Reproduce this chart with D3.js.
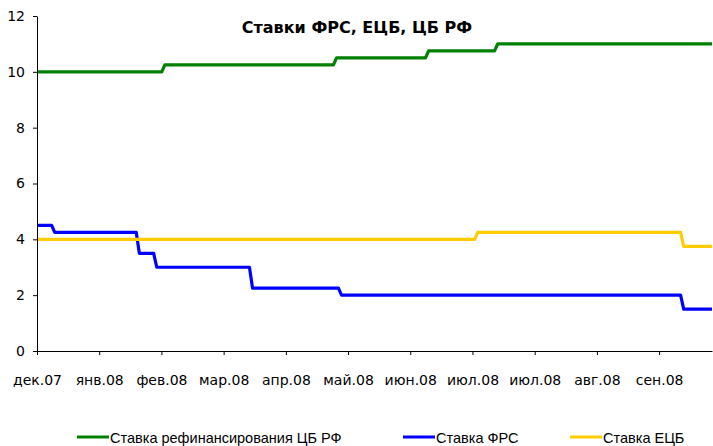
<!DOCTYPE html>
<html>
<head>
<meta charset="utf-8">
<script src="https://cdn.jsdelivr.net/npm/d3@7"></script>
<style>
  body { margin: 0; background: #fff; }
  svg text { font-family: "DejaVu Sans", Verdana, sans-serif; }
</style>
</head>
<body>
<svg id="chart" width="713" height="446"></svg>
<script>
// tick labels of the category axis (one per month tick)
var tickLabels = ["дек.07", "янв.08", "фев.08", "мар.08", "апр.08", "май.08",
	"июн.08", "июл.08", "июл.08", "авг.08", "сен.08"];
var xEnd = 10.85; // axis runs a bit past the last tick

// step changes: [position on axis in tick units, rate %]
var cbrSteps = [[0, 10], [2.03, 10.25], [4.79, 10.5], [6.27, 10.75], [7.38, 11]];
var fedSteps = [[0, 4.5], [0.26, 4.25], [1.62, 3.5], [1.90, 3.0], [3.44, 2.25], [4.87, 2.0], [10.37, 1.5]];
var ecbSteps = [[0, 4.0], [7.06, 4.25], [10.37, 3.75]];

var seriesNames = ["Ставка рефинансирования ЦБ РФ", "Ставка ФРС", "Ставка ЕЦБ"];
var seriesColors = ["#008000", "#0000ff", "#ffcc00"];
var yTicks = [0, 2, 4, 6, 8, 10, 12];

var svg = d3.select("#chart"),
	margin = {top: 16, left: 37, bottom: 95, right: 1},
	width = +svg.attr("width"),
	height = +svg.attr("height");

var x = d3.scaleLinear()
	.domain([0, xEnd])
	.range([margin.left, width - margin.right]);

var y = d3.scaleLinear()
	.domain([0, 12])
	.range([height - margin.bottom, margin.top]);

// turn a step list into a path with a short slanted riser
function stepPoints(steps) {
	var pts = [], half = 0.025;
	steps.forEach(function(s, i) {
		if (i == 0) pts.push([s[0], s[1]]);
		else {
			pts.push([s[0] - half, steps[i - 1][1]]);
			pts.push([s[0] + half, s[1]]);
		}
	});
	pts.push([xEnd, steps[steps.length - 1][1]]);
	return pts;
}

var line = d3.line()
	.x(d => x(d[0]))
	.y(d => y(d[1]));

// series in legend order, so yellow sits on top
[cbrSteps, fedSteps, ecbSteps].forEach(function(s, i) {
	svg.append("path")
		.datum(stepPoints(s))
		.attr("fill", "none")
		.attr("stroke", seriesColors[i])
		.attr("stroke-width", 3.2)
		.attr("stroke-linejoin", "round")
		.attr("d", line);
});

// y axis
svg.append("g")
	.attr("transform", `translate(${margin.left},0)`)
	.call(d3.axisLeft(y).tickValues(yTicks).tickSize(4).tickSizeOuter(0).tickPadding(8));

// x axis
svg.append("g")
	.attr("transform", `translate(0,${height - margin.bottom})`)
	.call(d3.axisBottom(x).tickValues(d3.range(tickLabels.length))
		.tickFormat(i => tickLabels[i]).tickSize(4).tickSizeOuter(0).tickPadding(20));

svg.selectAll(".tick text")
	.attr("font-family", "DejaVu Sans")
	.attr("font-size", "14px")
	.attr("fill", "#000");
svg.selectAll(".domain, .tick line").attr("stroke", "#000");

// title
svg.append("text")
	.attr("x", 357)
	.attr("y", 33)
	.attr("text-anchor", "middle")
	.style("font-size", "16px")
	.style("font-weight", "bold")
	.text("Ставки ФРС, ЕЦБ, ЦБ РФ");

// legend
var legendX = [77, 403, 570];
var legend = svg.selectAll(".legend")
	.data(seriesNames)
	.enter().append("g")
	.attr("class", "legend")
	.attr("transform", (d, i) => `translate(${legendX[i]},437)`);

legend.append("line")
	.attr("x1", 0).attr("x2", 32)
	.attr("stroke", (d, i) => seriesColors[i])
	.attr("stroke-width", 3);

legend.append("text")
	.attr("x", 33)
	.attr("y", 5.5)
	.style("font-family", "Liberation Sans, Arial, sans-serif")
	.style("font-size", "14.5px")
	.text(d => d);
</script>
</body>
</html>
